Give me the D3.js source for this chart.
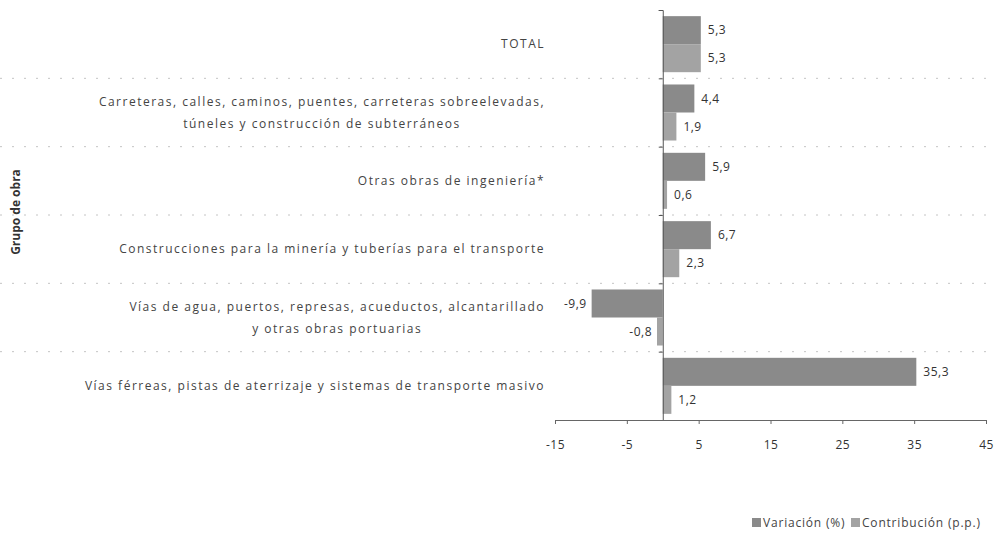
<!DOCTYPE html>
<html>
<head>
<meta charset="utf-8">
<script src="https://cdn.jsdelivr.net/npm/d3@7"></script>
<style>
  body { margin: 0; background: #fff; }
  svg { font-family: "Open Sans", "Noto Sans", sans-serif; }
  .cat-label { font-size: 12px; fill: #444; letter-spacing: 1.5px; }
  .val-label { font-size: 12px; fill: #333; letter-spacing: 0.5px; }
  .axis text { font-size: 12px; fill: #333; font-family: "Open Sans", sans-serif; letter-spacing: 0.5px; }
</style>
</head>
<body>
<svg id="chart"></svg>
<script>
// categories, top to bottom (lines split where the label wraps)
const categories = [
    ['TOTAL'],
    ['Carreteras, calles, caminos, puentes, carreteras sobreelevadas,', 'túneles y construcción de subterráneos'],
    ['Otras obras de ingeniería*'],
    ['Construcciones para la minería y tuberías para el transporte'],
    ['Vías de agua, puertos, represas, acueductos, alcantarillado', 'y otras obras portuarias'],
    ['Vías férreas, pistas de aterrizaje y sistemas de transporte masivo']
];
const variacion = [5.3, 4.4, 5.9, 6.7, -9.9, 35.3];
const contribucion = [5.3, 1.9, 0.6, 2.3, -0.8, 1.2];
const seriesNames = ['Variación (%)', 'Contribución (p.p.)'];
const xTicks = [-15, -5, 5, 15, 25, 35, 45];

const config = {
    width: 994,
    height: 541,
    margin: { top: 10, right: 8, bottom: 121, left: 555 }
};
const colors = ['#8a8a8a', '#a3a3a3'];

const svg = d3.select('#chart')
    .attr('width', config.width)
    .attr('height', config.height);

const width = config.width - config.margin.left - config.margin.right;
const height = config.height - config.margin.top - config.margin.bottom;

const chart = svg.append('g')
    .attr('transform', `translate(${config.margin.left},${config.margin.top})`);

const xScale = d3.scaleLinear()
    .domain([-15, 45])
    .range([0, width]);

const yScale = d3.scaleBand()
    .domain(d3.range(categories.length))
    .range([0, height])
    .paddingInner(0.18)
    .paddingOuter(0.09);

const subScale = d3.scaleBand()
    .domain([0, 1])
    .range([0, yScale.bandwidth()]);

// dotted separators between groups
const step = yScale.step();
const seps = d3.range(1, categories.length).map(i => i * step);
chart.selectAll('.sep')
    .data(seps)
    .enter()
    .append('line')
    .attr('x1', -555)
    .attr('x2', width)
    .attr('y1', d => d)
    .attr('y2', d => d)
    .attr('stroke', '#c4c4c4')
    .attr('stroke-width', 1)
    .attr('stroke-dasharray', '2,10');

// bars
const groups = chart.selectAll('.grp')
    .data(categories.map((c, i) => ({ i, vals: [variacion[i], contribucion[i]] })))
    .enter()
    .append('g')
    .attr('transform', d => `translate(0,${yScale(d.i)})`);

groups.selectAll('rect')
    .data(d => d.vals.map((v, k) => ({ v, k })))
    .enter()
    .append('rect')
    .attr('x', d => xScale(Math.min(0, d.v)))
    .attr('y', d => subScale(d.k))
    .attr('width', d => Math.abs(xScale(d.v) - xScale(0)))
    .attr('height', subScale.bandwidth())
    .attr('fill', d => colors[d.k]);

const fmt = v => d3.format('.1f')(v).replace('.', ',').replace('\u2212', '-');

groups.selectAll('.val-label')
    .data(d => d.vals.map((v, k) => ({ v, k })))
    .enter()
    .append('text')
    .attr('class', 'val-label')
    .attr('x', d => d.v < 0 ? xScale(d.v) - 5 : xScale(d.v) + 7)
    .attr('y', d => subScale(d.k) + subScale.bandwidth() / 2)
    .attr('dy', '0.35em')
    .attr('text-anchor', d => d.v < 0 ? 'end' : 'start')
    .text(d => fmt(d.v));

// category labels, centred block that ends at the right edge
const labelRight = -10;
categories.forEach((lines, i) => {
    const g = chart.append('g');
    const cy = yScale(i) + yScale.bandwidth() / 2;
    const texts = lines.map((line, j) => g.append('text')
        .attr('class', 'cat-label')
        .attr('text-anchor', 'middle')
        .attr('y', cy + (j - (lines.length - 1) / 2) * 22)
        .attr('dy', '0.35em')
        .text(line));
    const maxW = d3.max(texts, t => t.node().getComputedTextLength());
    texts.forEach(t => t.attr('x', labelRight - maxW / 2));
});

// zero axis
const yAxis = d3.axisLeft(d3.scaleLinear().domain([0, categories.length]).range([0, height]))
    .tickValues(d3.range(categories.length + 1))
    .tickSize(4)
    .tickFormat('');
chart.append('g')
    .attr('class', 'axis')
    .attr('transform', `translate(${xScale(0)},0)`)
    .call(yAxis)
    .call(g => g.selectAll('line, path').attr('stroke', '#555'));

// x axis
const xAxis = d3.axisBottom(xScale)
    .tickValues(xTicks)
    .tickSize(4)
    .tickPadding(16)
    .tickFormat(d => d);
chart.append('g')
    .attr('class', 'axis')
    .attr('transform', `translate(0,${height})`)
    .call(xAxis)
    .call(g => g.selectAll('line, path').attr('stroke', '#666'));

// y axis title
svg.append('text')
    .attr('transform', 'translate(20,212) rotate(-90)')
    .attr('text-anchor', 'middle')
    .attr('font-size', 12)
    .attr('font-weight', 'bold')
    .attr('fill', '#333')
    .text('Grupo de obra');

// legend
const legend = svg.append('g')
    .attr('transform', 'translate(752,523)');
const legendX = [0, 99];
seriesNames.forEach((name, k) => {
    const item = legend.append('g').attr('transform', `translate(${legendX[k]},0)`);
    item.append('rect')
        .attr('x', 0)
        .attr('y', -5)
        .attr('width', 9)
        .attr('height', 9)
        .attr('fill', colors[k]);
    item.append('text')
        .attr('x', 11)
        .attr('dy', '0.35em')
        .attr('font-size', 12)
        .attr('letter-spacing', '0.8px')
        .attr('fill', '#444')
        .text(name);
});
</script>
</body>
</html>
